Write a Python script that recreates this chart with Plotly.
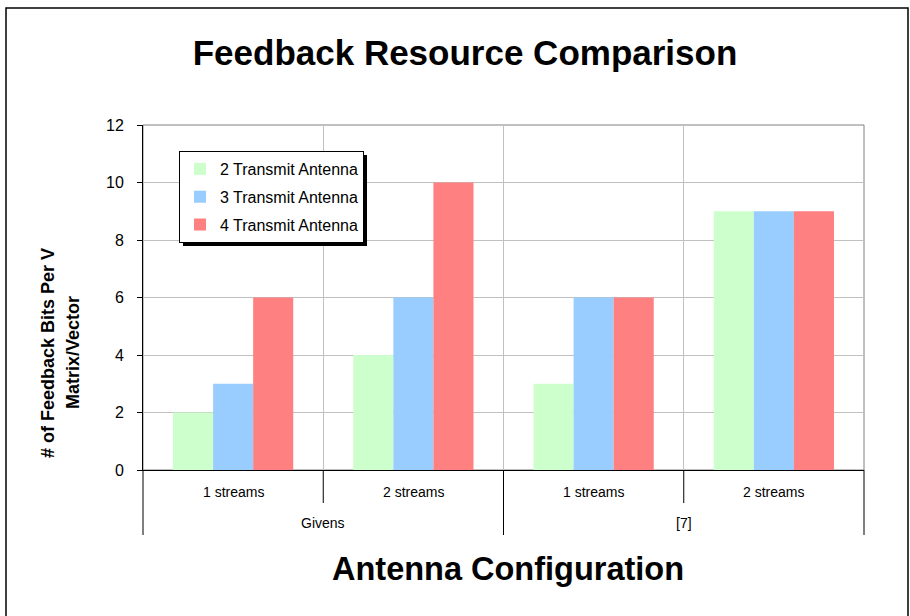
import plotly.graph_objects as go

methods = ["Givens", "Givens", "[7]", "[7]"]
streams = ["1 streams", "2 streams", "1 streams", "2 streams"]
series_names = ["2 Transmit Antenna", "3 Transmit Antenna", "4 Transmit Antenna"]
tx2 = [2, 4, 3, 9]
tx3 = [3, 6, 6, 9]
tx4 = [6, 10, 6, 9]
colors = ["#CCFFCC", "#99CCFF", "#FF8080"]
y_ticks = [0, 2, 4, 6, 8, 10, 12]

FONT = "Liberation Sans, Arial, sans-serif"
fig = go.Figure()
for i, (name, vals, col) in enumerate(zip(series_names, [tx2, tx3, tx4], colors)):
    fig.add_trace(go.Bar(name=name, x=[methods, streams], y=vals, legendgroup=f"g{i}",
                         marker=dict(color=col, line=dict(width=0))))

W, H = 910, 616
L, R, T, B = 143, 46, 125, 146
pw, ph = W - L - R, H - T - B


def px(x):
    return (x - L) / pw


def py(y):
    return (H - B - y) / ph


fig.update_layout(
    width=W, height=H,
    margin=dict(l=L, r=R, t=T, b=B),
    paper_bgcolor="white", plot_bgcolor="white",
    barmode="group", bargap=0.333, bargroupgap=0,
    font=dict(family=FONT, color="black"),
    title=dict(text="<b>Feedback Resource Comparison</b>", x=465 / W, xanchor="center",
               y=1 - 53 / H, yanchor="middle", font=dict(size=35, family=FONT)),
    legend=dict(x=px(179), y=py(151), xanchor="left", yanchor="top",
                bgcolor="white", bordercolor="black", borderwidth=1,
                font=dict(size=16, family=FONT), tracegroupgap=4, traceorder="grouped",
                itemwidth=30),
    xaxis=dict(type="multicategory", showgrid=True, gridcolor="#C0C0C0", tickson="boundaries",
               showline=True, linecolor="black", linewidth=1,
               showticklabels=False, showdividers=False, ticks=""),
    yaxis=dict(range=[0, 12], tickvals=y_ticks, showgrid=True, gridcolor="#C0C0C0",
               showline=True, linecolor="black", linewidth=1,
               ticks="outside", ticklen=5, tickcolor="black", ticklabelstandoff=10,
               tickfont=dict(size=16, family=FONT), zeroline=False),
    showlegend=True,
)

n = len(streams)
# inner category labels and dividers
for i, s in enumerate(streams):
    fig.add_annotation(text=s, xref="paper", yref="paper", x=(i + 0.5) / n, y=py(492),
                       showarrow=False, font=dict(size=14, family=FONT),
                       xanchor="center", yanchor="middle")
for k in range(1, n):
    if methods[k] == methods[k - 1]:
        fig.add_shape(type="line", xref="paper", yref="paper", x0=k / n, x1=k / n,
                      y0=py(470), y1=py(503), line=dict(color="black", width=1))
# outer group labels and dividers
bounds = [0] + [k for k in range(1, n) if methods[k] != methods[k - 1]] + [n]
for a, b in zip(bounds[:-1], bounds[1:]):
    fig.add_annotation(text=methods[a], xref="paper", yref="paper", x=(a + b) / 2 / n, y=py(523),
                       showarrow=False, font=dict(size=14, family=FONT),
                       xanchor="center", yanchor="middle")
for k in bounds:
    fig.add_shape(type="line", xref="paper", yref="paper", x0=k / n, x1=k / n,
                  y0=py(470), y1=py(535), line=dict(color="black", width=1))

fig.add_annotation(text="<b>Antenna Configuration</b>", xref="paper", yref="paper",
                   x=px(508), y=py(569), showarrow=False, font=dict(size=32.5, family=FONT),
                   xanchor="center", yanchor="middle")
fig.add_annotation(text="<b># of Feedback Bits Per V</b>", xref="paper", yref="paper",
                   x=px(48), y=py(353), showarrow=False, textangle=-90,
                   font=dict(size=18, family=FONT), xanchor="center", yanchor="middle")
fig.add_annotation(text="<b>Matrix/Vector</b>", xref="paper", yref="paper",
                   x=px(73), y=py(353), showarrow=False, textangle=-90,
                   font=dict(size=18, family=FONT), xanchor="center", yanchor="middle")

# plot-area border
fig.add_shape(type="rect", xref="paper", yref="paper", x0=0, x1=1, y0=0, y1=1,
              line=dict(color="#808080", width=1), layer="below")
# legend shadow
fig.add_shape(type="rect", xref="paper", yref="paper", x0=px(183), x1=px(367),
              y0=py(246), y1=py(155), fillcolor="black", line=dict(width=0), layer="above")
# chart border
fig.add_shape(type="rect", xref="paper", yref="paper", x0=px(6), x1=px(908),
              y0=py(640), y1=py(8), line=dict(color="black", width=1.5))

fig.write_html("out.html", config={"displayModeBar": False},
               post_script="document.body.style.margin='0';")
